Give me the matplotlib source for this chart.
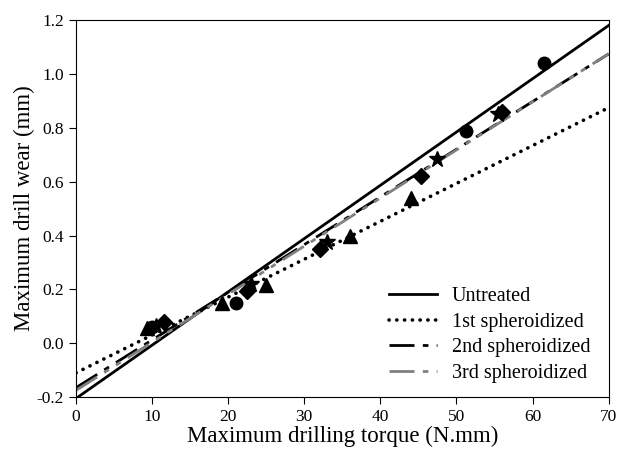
import numpy as np
import matplotlib
matplotlib.use('Agg')
import matplotlib.pyplot as plt

plt.rcParams['font.family'] = ['Liberation Serif', 'DejaVu Serif']

# fitted lines: (intercept, slope)
fit_labels = ['Untreated', '1st spheroidized', '2nd spheroidized', '3rd spheroidized']
fit_intercepts = [-0.205, -0.11, -0.165, -0.175]
fit_slopes = [0.01979, 0.01407, 0.01771, 0.01786]

# measured points
circle_x = [10.0, 21.0, 51.2, 61.5]
circle_y = [0.06, 0.15, 0.79, 1.04]
tri_x = [9.3, 19.2, 25.0, 36.0, 44.0]
tri_y = [0.055, 0.15, 0.215, 0.40, 0.54]
diamond_x = [11.5, 22.5, 32.0, 45.3, 56.0]
diamond_y = [0.08, 0.195, 0.35, 0.62, 0.86]
star_x = [10.5, 23.0, 33.0, 47.5, 55.5]
star_y = [0.065, 0.22, 0.375, 0.685, 0.85]

styles = [
    dict(color='black', lw=2.0, ls='-'),
    dict(color='black', lw=2.6, ls=(0, (0.05, 2.1)), dash_capstyle='round'),
    dict(color='black', lw=2.0, ls=(0, (9, 3, 2, 3))),
    dict(color='#808080', lw=2.0, ls=(0, (9, 3, 2, 3, 2, 3))),
]

fig = plt.figure(figsize=(6.23, 4.58), dpi=100)
ax = fig.add_axes([0.122, 0.133, 0.855, 0.823])

xx = np.array([0, 70])
for lab, b, m, st in zip(fit_labels, fit_intercepts, fit_slopes, styles):
    ax.plot(xx, b + m * xx, label=lab, **st)

ax.plot(circle_x, circle_y, 'o', color='black', ms=9, ls='none')
ax.plot(tri_x, tri_y, '^', color='black', ms=10, ls='none')
ax.plot(diamond_x, diamond_y, 'D', color='black', ms=8.5, ls='none')
ax.plot(star_x, star_y, '*', color='black', ms=12, ls='none')

ax.set_xlim(0, 70)
ax.set_ylim(-0.2, 1.2)
ax.set_xticks(np.arange(0, 71, 10))
ax.set_yticks(np.arange(-0.2, 1.21, 0.2))
ax.set_yticklabels(['%.1f' % v for v in np.arange(-0.2, 1.21, 0.2)])
ax.tick_params(direction='out', length=5, labelsize=12.5, top=False, right=False)

ax.set_xlabel('Maximum drilling torque (N.mm)', fontsize=16.5, labelpad=1)
ax.set_ylabel('Maximum drill wear (mm)', fontsize=16.5, labelpad=1)

ax.legend(loc='lower right', frameon=False, fontsize=14.5, handlelength=2.4,
          labelspacing=0.32, handletextpad=0.75, bbox_to_anchor=(1.0, -0.01))

fig.savefig('out.png', dpi=100)
